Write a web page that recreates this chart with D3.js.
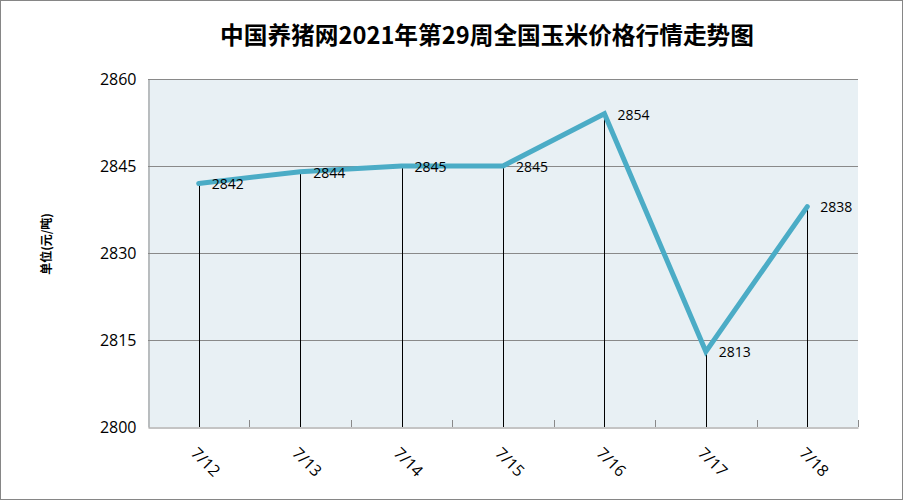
<!DOCTYPE html>
<html><head><meta charset="utf-8">
<script src="https://cdn.jsdelivr.net/npm/d3@7"></script>
<style>body{margin:0;background:#fff}</style>
</head><body>
<script>
const categories = ["7/12","7/13","7/14","7/15","7/16","7/17","7/18"];
const values = [2842,2844,2845,2845,2854,2813,2838];
const yTicks = [2800,2815,2830,2845,2860];
const title = "中国养猪网2021年第29周全国玉米价格行情走势图";
const yLabel = "单位(元/吨)";

const W=903,H=500;
const m={l:148,r:45,t:79,b:73};
const svg=d3.select("body").append("svg").attr("width",W).attr("height",H);
svg.append("rect").attr("x",0.5).attr("y",0.5).attr("width",W-1).attr("height",H-1).attr("fill","#fff").attr("stroke","#868686");

const x=d3.scaleBand().domain(categories).range([m.l,W-m.r]);
const y=d3.scaleLinear().domain([2800,2860]).range([H-m.b,m.t]);

svg.append("rect").attr("x",m.l).attr("y",m.t).attr("width",x.range()[1]-m.l).attr("height",y(2800)-m.t).attr("fill","#e8f0f4");

// gridlines
svg.append("g").selectAll("line").data(yTicks.slice(1)).join("line")
 .attr("x1",m.l).attr("x2",x.range()[1]).attr("y1",d=>Math.round(y(d))+0.5).attr("y2",d=>Math.round(y(d))+0.5)
 .attr("stroke","#898989").attr("stroke-width",1);

// y axis
const ya=svg.append("g").attr("transform",`translate(${m.l+0.5},0)`).call(d3.axisLeft(y).tickValues(yTicks).tickFormat(d3.format("d")).tickSize(0).tickPadding(12));
ya.select(".domain").attr("stroke","#898989");
ya.selectAll("text").attr("font-family","'Open Sans','Noto Sans',sans-serif").attr("font-size",16).attr("fill","#000");

// x axis
const xa=svg.append("g").attr("transform",`translate(0,${Math.round(y(2800))+0.5})`)
 .call(d3.axisTop(x).tickSize(0).tickFormat(""));
xa.select(".domain").attr("stroke","#898989");
const bounds=d3.range(categories.length+1).map(i=>m.l+i*x.step());
svg.append("g").selectAll("line").data(bounds.slice(1)).join("line")
 .attr("x1",d=>Math.round(d)+0.5).attr("x2",d=>Math.round(d)+0.5)
 .attr("y1",y(2800)-7).attr("y2",y(2800)).attr("stroke","#898989");

const cx=d=>x(d)+x.bandwidth()/2;
svg.append("g").selectAll("text").data(categories).join("text")
 .attr("transform",d=>`translate(${cx(d)+6},${y(2800)+36}) rotate(45)`)
 .attr("text-anchor","middle").attr("dominant-baseline","middle")
 .attr("font-family","'Open Sans','Noto Sans',sans-serif").attr("font-size",16).text(d=>d);

// drop lines
svg.append("g").selectAll("line").data(categories).join("line")
 .attr("x1",d=>Math.round(cx(d))+0.5).attr("x2",d=>Math.round(cx(d))+0.5)
 .attr("y1",(d,i)=>y(values[i])).attr("y2",y(2800)).attr("stroke","#000").attr("stroke-width",1);

// line
svg.append("path").datum(values)
 .attr("d",d3.line().x((d,i)=>cx(categories[i])).y(d=>y(d)))
 .attr("fill","none").attr("stroke","#4bacc6").attr("stroke-width",5).attr("stroke-linecap","round");

// labels
svg.append("g").selectAll("text").data(values).join("text")
 .attr("x",(d,i)=>cx(categories[i])+13).attr("y",d=>y(d)+2)
 .attr("dominant-baseline","middle")
 .attr("font-family","'Open Sans','Noto Sans',sans-serif").attr("font-size",14).attr("fill","#000").text(d=>d);

svg.append("text").attr("x",487).attr("y",38).attr("text-anchor","middle").attr("dominant-baseline","middle")
 .attr("font-family","'Noto Sans CJK SC',sans-serif").attr("font-weight","bold").attr("font-size",23.7).text(title);

svg.append("text").attr("transform","translate(48,244) rotate(-90)").attr("text-anchor","middle").attr("dominant-baseline","middle")
 .attr("font-family","'Noto Sans CJK SC',sans-serif").attr("font-weight","bold").attr("font-size",12).text(yLabel);
</script>
</body></html>
